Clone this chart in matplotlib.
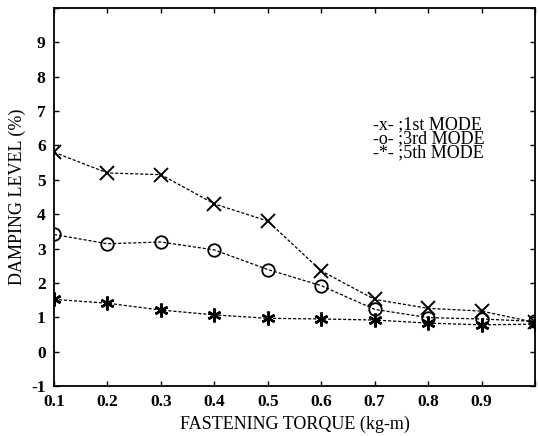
import matplotlib
matplotlib.use("Agg")
import matplotlib.pyplot as plt

torque = [0.1, 0.2, 0.3, 0.4, 0.5, 0.6, 0.7, 0.8, 0.9, 1.0]
mode1 = [5.8, 5.2, 5.15, 4.3, 3.8, 2.35, 1.52, 1.26, 1.18, 0.85]
mode3 = [3.41, 3.14, 3.19, 2.96, 2.39, 1.92, 1.23, 0.99, 0.95, 0.88]
mode5 = [1.52, 1.41, 1.21, 1.07, 0.97, 0.95, 0.92, 0.83, 0.78, 0.80]
xticks = [0.1, 0.2, 0.3, 0.4, 0.5, 0.6, 0.7, 0.8, 0.9, 1.0]
xticklabels = ["0.1", "0.2", "0.3", "0.4", "0.5", "0.6", "0.7", "0.8", "0.9", ""]
yticks = list(range(-1, 11))
yticklabels = [str(v) for v in range(-1, 10)] + [""]
legend_lines = ["-x- ;1st MODE", "-o- ;3rd MODE", "-*- ;5th MODE"]

plt.rcParams['font.family'] = ['Liberation Serif', 'DejaVu Serif']

fig = plt.figure(figsize=(5.38, 4.36), dpi=100)
ax = fig.add_axes([54/538, 1-386/436, (535-54)/538, (386-8)/436])

ls = (0, (2.5, 1.5))
ax.plot(torque, mode1, color='black', linestyle=ls, linewidth=0.9, marker='x', markersize=10, markeredgewidth=1.4)
ax.plot(torque, mode3, color='black', linestyle=ls, linewidth=0.9, marker='o', markersize=9, markerfacecolor='none', markeredgewidth=1.3)
ax.plot(torque, mode5, color='black', linestyle=ls, linewidth=0.9, marker=(6, 2, 0), markersize=10, markeredgewidth=1.8)

ax.set_xlim(0.1, 1.0)
ax.set_ylim(-1, 10)
ax.set_xticks(xticks)
ax.set_xticklabels(xticklabels, fontsize=12.5, fontweight='bold')
ax.set_yticks(yticks)
ax.set_yticklabels(yticklabels, fontsize=12.5, fontweight='bold')
ax.tick_params(axis='x', direction='in', top=True, length=3.5, width=1, pad=6)
ax.tick_params(axis='y', direction='in', right=True, length=3.5, width=1, pad=6)
for s in ax.spines.values():
    s.set_linewidth(1.3)

ax.set_xlabel("FASTENING TORQUE (kg-m)", fontsize=13, labelpad=4)
ax.set_ylabel("DAMPING LEVEL (%)", fontsize=13, labelpad=4)

ax.text(0.696, 6.18, "\n".join(legend_lines), fontsize=13, va='center', ha='left',
        linespacing=0.78, transform=ax.transData)

fig.savefig("out.png", dpi=100)
